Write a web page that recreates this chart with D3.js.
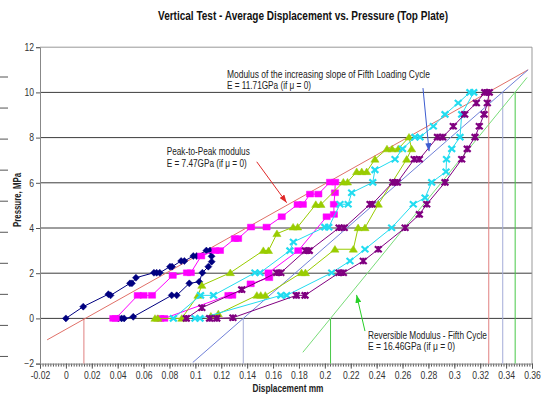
<!DOCTYPE html>
<html>
<head>
<meta charset="utf-8">
<script src="https://cdn.jsdelivr.net/npm/d3@7"></script>
<style>
  body { margin: 0; background: #fff; }
  svg { display: block; font-family: Arial, "Liberation Sans", sans-serif; }
</style>
</head>
<body>
<div id="chart"></div>
<script>
const WIDTH = 547;
const HEIGHT = 396;

// axis ticks
const xTickValues = [-0.02, 0, 0.02, 0.04, 0.06, 0.08, 0.1, 0.12, 0.14, 0.16, 0.18, 0.2, 0.22, 0.24, 0.26, 0.28, 0.3, 0.32, 0.34, 0.36];
const xTickLabels = ['-0.02', '0', '0.02', '0.04', '0.06', '0.08', '0.1', '0.12', '0.14', '0.16', '0.18', '0.2', '0.22', '0.24', '0.26', '0.28', '0.3', '0.32', '0.34', '0.36'];
const yTickValues = [-2, 0, 2, 4, 6, 8, 10, 12];

// cycle 1 (navy diamonds)
const cycle1Disp = [0, 0.0134, 0.0328, 0.0345, 0.0495, 0.051, 0.0541, 0.068, 0.0701, 0.0725, 0.0804, 0.082, 0.089, 0.0915, 0.0984, 0.101, 0.1085, 0.1113, 0.1125, 0.1126, 0.110, 0.1054, 0.103, 0.0953, 0.0856, 0.0817, 0.052, 0.045, 0.043, 0.0405];
const cycle1Pres = [0, 0.52, 1.07, 1.02, 1.55, 1.55, 1.8, 2.02, 2.02, 2.02, 2.29, 2.29, 2.54, 2.54, 2.76, 2.76, 3.0, 3.0, 2.75, 2.51, 2.29, 2.02, 1.62, 1.55, 1.02, 1.02, 0.07, 0, 0, 0];

// cycle 2 (magenta squares)
const cycle2Disp = [0.0366, 0.0385, 0.0555, 0.06, 0.0665, 0.0825, 0.0935, 0.0965, 0.1045, 0.1155, 0.119, 0.1305, 0.133, 0.143, 0.155, 0.1667, 0.179, 0.183, 0.1886, 0.195, 0.204, 0.208, 0.2078, 0.207, 0.207, 0.2014, 0.1795, 0.1565, 0.157, 0.1427, 0.1285, 0.1255, 0.076, 0.073];
const cycle2Pres = [0, 0, 1.02, 1.02, 1.02, 1.9, 2.02, 2.02, 2.76, 3.0, 3.0, 3.53, 3.53, 4.04, 4.04, 4.5, 5.04, 5.04, 5.5, 5.5, 6.03, 6.03, 5.56, 5.05, 4.6, 4.5, 3.0, 2.02, 1.8, 1.53, 1.02, 1.02, 0, 0];

// cycle 3 (green triangles)
const cycle3Disp = [0.0688, 0.071, 0.0895, 0.102, 0.105, 0.127, 0.1525, 0.1565, 0.163, 0.1755, 0.179, 0.193, 0.197, 0.2143, 0.2175, 0.2246, 0.2285, 0.2323, 0.2387, 0.248, 0.252, 0.2567, 0.265, 0.267, 0.2632, 0.2413, 0.231, 0.2257, 0.222, 0.2078, 0.185, 0.182, 0.154, 0.1505, 0.1475, 0.1177, 0.112];
const cycle3Pres = [0, 0, 0, 1.02, 1.46, 2.02, 3.0, 3.0, 3.75, 4.04, 4.04, 5.04, 5.04, 6.03, 6.03, 6.49, 6.49, 6.49, 7.04, 7.5, 7.5, 7.5, 8.02, 7.5, 7.04, 5.05, 4.01, 4.01, 3.06, 3.06, 2.02, 2.02, 1.02, 1.02, 1.02, 0.2, 0.1];

// cycle 4 (cyan crosses)
const cycle4Disp = [0.083, 0.104, 0.114, 0.146, 0.15, 0.173, 0.1757, 0.2, 0.203, 0.2117, 0.218, 0.2207, 0.237, 0.2387, 0.2542, 0.26, 0.2696, 0.2735, 0.2838, 0.2928, 0.303, 0.312, 0.315, 0.3057, 0.3044, 0.298, 0.294, 0.2936, 0.2825, 0.2774, 0.2683, 0.2516, 0.231, 0.2194, 0.2053, 0.1705, 0.166, 0.1036, 0.0997];
const cycle4Pres = [0, 1.02, 1.02, 2.02, 2.02, 3.0, 3.38, 4.04, 4.04, 5.05, 5.05, 5.56, 6.02, 6.57, 7.04, 7.5, 8.02, 8.02, 8.5, 9.03, 9.53, 10.0, 10.0, 9.03, 8.02, 7.5, 7.04, 6.49, 6.02, 5.34, 5.05, 4.01, 3.06, 2.54, 2.02, 1.02, 1.02, 0, 0];

// cycle 5 (purple stars)
const cycle5Disp = [0.093, 0.105, 0.1358, 0.1628, 0.166, 0.185, 0.188, 0.211, 0.215, 0.2349, 0.2365, 0.2525, 0.256, 0.269, 0.273, 0.287, 0.291, 0.2992, 0.308, 0.317, 0.3235, 0.327, 0.3255, 0.323, 0.3193, 0.316, 0.31, 0.3057, 0.2928, 0.2787, 0.273, 0.262, 0.2413, 0.2297, 0.2143, 0.211, 0.1847, 0.178, 0.129, 0.1165, 0.111];
const cycle5Pres = [0, 0.47, 1.27, 2.02, 2.02, 3.0, 3.0, 4.01, 4.01, 5.05, 5.05, 6.02, 6.02, 7.04, 7.04, 8.02, 8.02, 8.5, 9.03, 9.53, 10.0, 10.0, 9.53, 9.03, 8.5, 8.02, 7.5, 7.04, 6.02, 5.05, 4.6, 4.01, 3.06, 2.54, 2.02, 2.02, 1.02, 1.02, 0.03, 0, 0];

// modulus lines: [x0, x1], [y0, y1]
const peakLineX = [-0.0145, 0.357];
const peakLineY = [-0.95, 11.0];
const loadLineX = [0.098, 0.357];
const loadLineY = [-1.95, 11.0];
const revLineX = [0.183, 0.3562];
const revLineY = [-1.5, 10.66];

// drop lines: x position and top pressure
const peakDropX = [0.0139, 0.3266];
const loadDropX = [0.137, 0.3374];
const revDropX = [0.2044, 0.347];
const dropTops = [0, 10];

const svg = d3.select('#chart')
  .append('svg')
  .attr('width', WIDTH)
  .attr('height', HEIGHT);

const x = d3.scaleLinear().domain([-0.02, 0.36]).range([40, 532]);
const y = d3.scaleLinear().domain([-2, 12]).range([363.6, 47.2]);

const SQUEEZE = 0.86;

function squeeze(sel) {
  sel.each(function () {
    const t = d3.select(this);
    const x0 = +t.attr('x') || 0;
    t.attr('transform', `translate(${x0},0) scale(${SQUEEZE},1) translate(${-x0},0)`);
  });
}

// stray dashes at the left edge of the screenshot
svg.append('g')
  .selectAll('line')
  .data(d3.range(10))
  .join('line')
  .attr('x1', 0)
  .attr('x2', 8)
  .attr('y1', (d) => 77 + d * 31.05)
  .attr('y2', (d) => 77 + d * 31.05)
  .attr('stroke', '#555')
  .attr('stroke-width', 1);

// title
svg.append('text')
  .attr('x', 303)
  .attr('y', 19.5)
  .attr('text-anchor', 'middle')
  .attr('textLength', 290)
  .attr('lengthAdjust', 'spacingAndGlyphs')
  .style('font-size', '12px')
  .style('font-weight', 'bold')
  .style('fill', '#111')
  .text('Vertical Test - Average Displacement vs. Pressure (Top Plate)');

// horizontal gridlines
svg.append('g')
  .selectAll('line')
  .data(yTickValues.filter((v) => v > -2 && v < 12))
  .join('line')
  .attr('x1', x(-0.02))
  .attr('x2', x(0.36))
  .attr('y1', (d) => y(d))
  .attr('y2', (d) => y(d))
  .attr('stroke', '#3c3c3c')
  .attr('stroke-width', 1);

// plot border (top, right)
svg.append('path')
  .attr('d', `M${x(-0.02)},${y(12)}H${x(0.36)}V${y(-2)}`)
  .attr('fill', 'none')
  .attr('stroke', '#999')
  .attr('stroke-width', 1);

// x axis minor ticks
svg.append('g')
  .attr('transform', `translate(0,${y(-2)})`)
  .call(d3.axisBottom(x).tickValues(d3.range(-20, 361, 2).map((v) => v / 1000)).tickSize(3).tickFormat(''))
  .call((g) => g.select('.domain').remove())
  .call((g) => g.selectAll('line').attr('stroke', '#555'));

// x axis
const xAxis = svg.append('g')
  .attr('transform', `translate(0,${y(-2)})`)
  .call(d3.axisBottom(x).tickValues(xTickValues).tickSize(5).tickPadding(3)
    .tickFormat((d, i) => xTickLabels[i]));
xAxis.select('.domain').attr('stroke', '#888');
xAxis.selectAll('line').attr('stroke', '#555');
xAxis.selectAll('text')
  .style('font-size', '10px')
  .style('font-family', 'Arial, "Liberation Sans", sans-serif')
  .style('fill', '#333')
  .call(squeeze);

// y axis
const yAxis = svg.append('g')
  .attr('transform', `translate(${x(-0.02)},0)`)
  .call(d3.axisLeft(y).tickValues(yTickValues).tickSize(4).tickPadding(2));
yAxis.select('.domain').attr('stroke', '#888');
yAxis.selectAll('line').attr('stroke', '#555');
yAxis.selectAll('text')
  .style('font-size', '10px')
  .style('font-family', 'Arial, "Liberation Sans", sans-serif')
  .style('fill', '#333')
  .call(squeeze);

// axis titles
svg.append('text')
  .attr('transform', 'translate(20.5,200) rotate(-90)')
  .attr('text-anchor', 'middle')
  .attr('textLength', 54)
  .attr('lengthAdjust', 'spacingAndGlyphs')
  .style('font-size', '10px')
  .style('font-weight', 'bold')
  .style('fill', '#222')
  .text('Pressure, MPa');

svg.append('text')
  .attr('x', 288)
  .attr('y', 392)
  .attr('text-anchor', 'middle')
  .attr('textLength', 71)
  .attr('lengthAdjust', 'spacingAndGlyphs')
  .style('font-size', '10px')
  .style('font-weight', 'bold')
  .style('fill', '#222')
  .text('Displacement mm');

// modulus lines
function drawSegment(xs, ys, color) {
  svg.append('line')
    .attr('x1', x(xs[0]))
    .attr('y1', y(ys[0]))
    .attr('x2', x(xs[1]))
    .attr('y2', y(ys[1]))
    .attr('stroke', color)
    .attr('stroke-width', 1);
}

function drawDrops(xs, color) {
  xs.forEach((v, i) => {
    svg.append('line')
      .attr('x1', x(v))
      .attr('x2', x(v))
      .attr('y1', y(dropTops[i]))
      .attr('y2', y(-2))
      .attr('stroke', color)
      .attr('stroke-width', 1);
  });
}

drawDrops(peakDropX, '#e08080');
drawDrops(loadDropX, '#a4acd8');
drawDrops(revDropX, '#48c848');
drawSegment(peakLineX, peakLineY, '#e07068');
drawSegment(loadLineX, loadLineY, '#7080d8');
drawSegment(revLineX, revLineY, '#78dc78');

// data series
const shapes = {
  diamond: 'M0,-3.5L3.5,0L0,3.5L-3.5,0Z',
  square: 'M-3.6,-2.9H3.6V2.9H-3.6Z',
  triangle: 'M0,-3.7L4.1,2.9H-4.1Z',
  cross: 'M-3.4,-3L3.4,3M-3.4,3L3.4,-3',
  star: 'M-3.4,-3L3.4,3M-3.4,3L3.4,-3M0,-3.3V3.3'
};

const series = [
  { xs: cycle1Disp, ys: cycle1Pres, color: '#000080', shape: 'diamond', filled: true },
  { xs: cycle2Disp, ys: cycle2Pres, color: '#ff00ff', shape: 'square', filled: true },
  { xs: cycle3Disp, ys: cycle3Pres, color: '#99cc00', shape: 'triangle', filled: true },
  { xs: cycle4Disp, ys: cycle4Pres, color: '#22dcf0', shape: 'cross', filled: false },
  { xs: cycle5Disp, ys: cycle5Pres, color: '#800080', shape: 'star', filled: false }
];

series.forEach((s) => {
  const pts = s.xs.map((v, i) => [v, s.ys[i]]);
  svg.append('path')
    .datum(pts)
    .attr('fill', 'none')
    .attr('stroke', s.color)
    .attr('stroke-width', 1)
    .attr('d', d3.line().x((d) => x(d[0])).y((d) => y(d[1])));

  svg.append('g')
    .selectAll('path')
    .data(pts)
    .join('path')
    .attr('transform', (d) => `translate(${x(d[0])},${y(d[1])})`)
    .attr('d', shapes[s.shape])
    .attr('fill', s.filled ? s.color : 'none')
    .attr('stroke', s.color)
    .attr('stroke-width', s.filled ? 0.5 : 2.2);
});

// annotation arrows
const defs = svg.append('defs');
function arrowHead(id, color) {
  defs.append('marker')
    .attr('id', id)
    .attr('viewBox', '0 0 8 6')
    .attr('refX', 8)
    .attr('refY', 3)
    .attr('markerWidth', 8)
    .attr('markerHeight', 6)
    .attr('markerUnits', 'userSpaceOnUse')
    .attr('orient', 'auto')
    .append('path')
    .attr('d', 'M0,0L8,3L0,6Z')
    .attr('fill', color);
}
arrowHead('arrRed', '#e02828');
arrowHead('arrBlue', '#3c5cd0');
arrowHead('arrGreen', '#28d028');

function arrow(x0, y0, x1, y1, color, id) {
  svg.append('line')
    .attr('x1', x(x0))
    .attr('y1', y(y0))
    .attr('x2', x(x1))
    .attr('y2', y(y1))
    .attr('stroke', color)
    .attr('stroke-width', 1)
    .attr('marker-end', `url(#${id})`);
}
arrow(0.1474, 6.93, 0.1705, 5.12, '#e02828', 'arrRed');
arrow(0.2758, 10.19, 0.2805, 7.4, '#3c5cd0', 'arrBlue');
arrow(0.231, -0.56, 0.2245, 1.04, '#28d028', 'arrGreen');

// annotation texts
function note(xv, yv, str, len) {
  svg.append('text')
    .attr('x', x(xv))
    .attr('y', y(yv))
    .attr('textLength', len)
    .attr('lengthAdjust', 'spacingAndGlyphs')
    .style('font-size', '10px')
    .style('fill', '#222')
    .text(str);
}
note(0.1244, 10.64, 'Modulus of the increasing slope of Fifth Loading Cycle', 203);
note(0.1244, 10.13, 'E = 11.71GPa (if \u03bc = 0)', 84);
note(0.0779, 7.22, 'Peak-to-Peak modulus', 83);
note(0.0779, 6.68, 'E = 7.47GPa (if \u03bc = 0)', 80);
note(0.2333, -0.89, 'Reversible Modulus - Fifth Cycle', 119);
note(0.2333, -1.38, 'E = 16.46GPa (if \u03bc = 0)', 87);
</script>
</body>
</html>
